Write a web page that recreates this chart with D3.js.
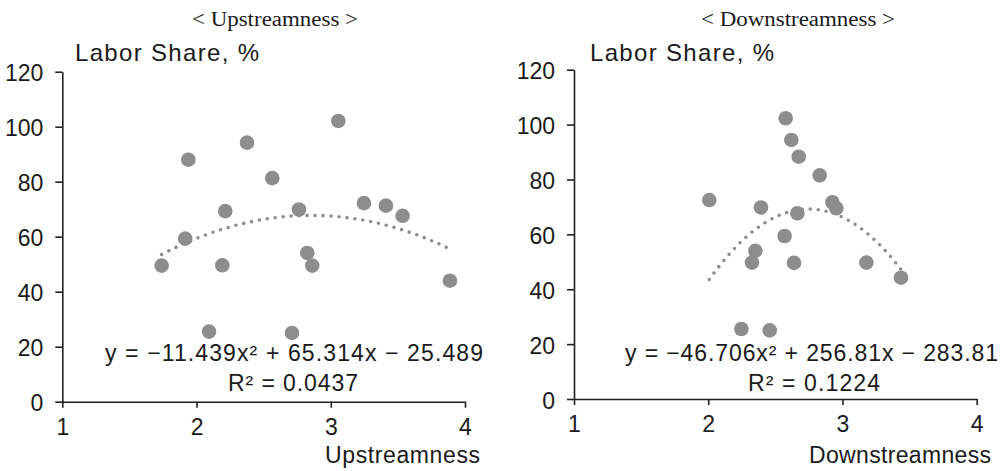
<!DOCTYPE html>
<html>
<head>
<meta charset="utf-8">
<script src="https://cdn.jsdelivr.net/npm/d3@7"></script>
<style>
  html, body { margin: 0; padding: 0; background: #ffffff; }
  svg { display: block; }
</style>
</head>
<body>
<svg id="chart" width="1008" height="471"></svg>
<script>
// ---------- data ----------
const upTitle = "< Upstreamness >";
const downTitle = "< Downstreamness >";
const yLabel = "Labor Share, %";
const upXLabel = "Upstreamness";
const downXLabel = "Downstreamness";

const xTicks = [1, 2, 3, 4];
const yTicks = [0, 20, 40, 60, 80, 100, 120];

// Upstreamness panel points
const upX = [1.74, 1.916, 1.939, 2.093, 2.192, 2.214, 2.376, 2.564, 2.711, 2.763, 2.825, 2.862, 3.056, 3.247, 3.411, 3.535, 3.888];
const upY = [49.5, 59.3, 88.0, 25.5, 49.6, 69.3, 94.2, 81.3, 25.0, 69.9, 54.1, 49.5, 102.1, 72.2, 71.3, 67.6, 44.0];

// Downstreamness panel points
const downX = [2.008, 2.247, 2.326, 2.351, 2.393, 2.458, 2.569, 2.577, 2.619, 2.639, 2.664, 2.674, 2.830, 2.925, 2.954, 3.178, 3.436];
const downY = [72.5, 25.5, 49.7, 54.0, 69.8, 25.0, 59.4, 102.3, 94.4, 49.6, 67.7, 88.3, 81.5, 71.7, 69.5, 49.7, 44.2];

// polynomial trend coefficients [a, b, c] for y = a x^2 + b x + c
const upCoef = [-11.439, 65.314, -25.489];
const downCoef = [-46.706, 256.81, -283.81];
const upEq = "y = \u221211.439x\u00B2 + 65.314x \u2212 25.489";
const upR2 = "R\u00B2 = 0.0437";
const downEq = "y = \u221246.706x\u00B2 + 256.81x \u2212 283.81";
const downR2 = "R\u00B2 = 0.1224";

// ---------- drawing ----------
const svg = d3.select("#chart");
const sansFont = "'Liberation Sans', Arial, sans-serif";
const serifFont = "'Liberation Serif', 'Times New Roman', serif";
const dotColor = "#8d8d8d";
const axisColor = "#231f20";
const textColor = "#1a1a1a";

function panel(cfg) {
  const x = d3.scaleLinear().domain([1, 4]).range([cfg.x0, cfg.x1]);
  const y = d3.scaleLinear().domain([0, 120]).range([cfg.yb, cfg.yt]);
  const g = svg.append("g");

  // title
  g.append("text")
    .attr("x", cfg.titleX).attr("y", 26)
    .attr("font-family", serifFont).attr("font-size", 20)
    .attr("textLength", cfg.titleW).attr("lengthAdjust", "spacingAndGlyphs")
    .attr("fill", textColor)
    .text(cfg.title);

  // y label
  g.append("text")
    .attr("x", cfg.yLabX).attr("y", 61)
    .attr("font-family", sansFont).attr("font-size", 24)
    .attr("textLength", 184).attr("lengthAdjust", "spacing")
    .attr("fill", textColor)
    .text(yLabel);

  // axes
  const yAxis = d3.axisLeft(y).tickValues(yTicks).tickSize(7).tickSizeOuter(0).tickPadding(12);
  const xAxis = d3.axisBottom(x).tickValues(xTicks).tickSize(6).tickSizeOuter(0).tickPadding(11).tickFormat(d3.format("d"));

  const ya = g.append("g").attr("transform", `translate(${cfg.x0},0)`).call(yAxis);
  const xa = g.append("g").attr("transform", `translate(0,${cfg.yb})`).call(xAxis);
  [ya, xa].forEach(a => {
    a.select(".domain").attr("stroke", axisColor).attr("stroke-width", 1.6);
    a.selectAll(".tick line").attr("stroke", axisColor).attr("stroke-width", 1.6);
    a.selectAll(".tick text").attr("font-family", sansFont).attr("font-size", 23).attr("fill", textColor);
  });
  ya.selectAll(".tick text").attr("dy", "0.4em");

  // x label
  g.append("text")
    .attr("x", cfg.xLabRight - cfg.xLabW).attr("y", 463)
    .attr("font-family", sansFont).attr("font-size", 23)
    .attr("textLength", cfg.xLabW).attr("lengthAdjust", "spacing")
    .attr("fill", textColor)
    .text(cfg.xLabel);

  // trend line
  const xs = cfg.xs, ys = cfg.ys;
  const [a, b, c] = cfg.coef;
  const lo = d3.min(xs), hi = d3.max(xs);
  const n = 200;
  const pts = d3.range(n + 1).map(i => {
    const xv = lo + (hi - lo) * i / n;
    return [xv, a * xv * xv + b * xv + c];
  });
  g.append("path")
    .datum(pts)
    .attr("fill", "none")
    .attr("stroke", dotColor)
    .attr("stroke-width", 3.6)
    .attr("stroke-linecap", "round")
    .attr("stroke-dasharray", "0,8")
    .attr("d", d3.line().x(d => x(d[0])).y(d => y(d[1])));

  // points
  g.append("g").selectAll("circle")
    .data(xs.map((d, i) => [d, ys[i]]))
    .join("circle")
    .attr("cx", d => x(d[0]))
    .attr("cy", d => y(d[1]))
    .attr("r", 7.3)
    .attr("fill", dotColor);

  // equation
  g.append("text")
    .attr("x", cfg.eqX).attr("y", 361)
    .attr("font-family", sansFont).attr("font-size", 23)
    .attr("textLength", cfg.eqW).attr("lengthAdjust", "spacing")
    .attr("fill", textColor)
    .text(cfg.eq);
  g.append("text")
    .attr("x", cfg.r2X).attr("y", 391)
    .attr("font-family", sansFont).attr("font-size", 23)
    .attr("textLength", cfg.r2W).attr("lengthAdjust", "spacing")
    .attr("fill", textColor)
    .text(cfg.r2);
}

panel({
  x0: 62.3, x1: 465, yb: 401.7, yt: 71.7,
  title: upTitle, titleX: 192, titleW: 166,
  yLabX: 75,
  xLabel: upXLabel, xLabRight: 480, xLabW: 155,
  xs: upX, ys: upY, coef: upCoef,
  eq: upEq, eqX: 105, eqW: 378,
  r2: upR2, r2X: 228, r2W: 130
});

panel({
  x0: 574, x1: 976.7, yb: 399, yt: 69.7,
  title: downTitle, titleX: 701, titleW: 194,
  yLabX: 590,
  xLabel: downXLabel, xLabRight: 991, xLabW: 182,
  xs: downX, ys: downY, coef: downCoef,
  eq: downEq, eqX: 625, eqW: 373,
  r2: downR2, r2X: 748, r2W: 132
});
</script>
</body>
</html>
